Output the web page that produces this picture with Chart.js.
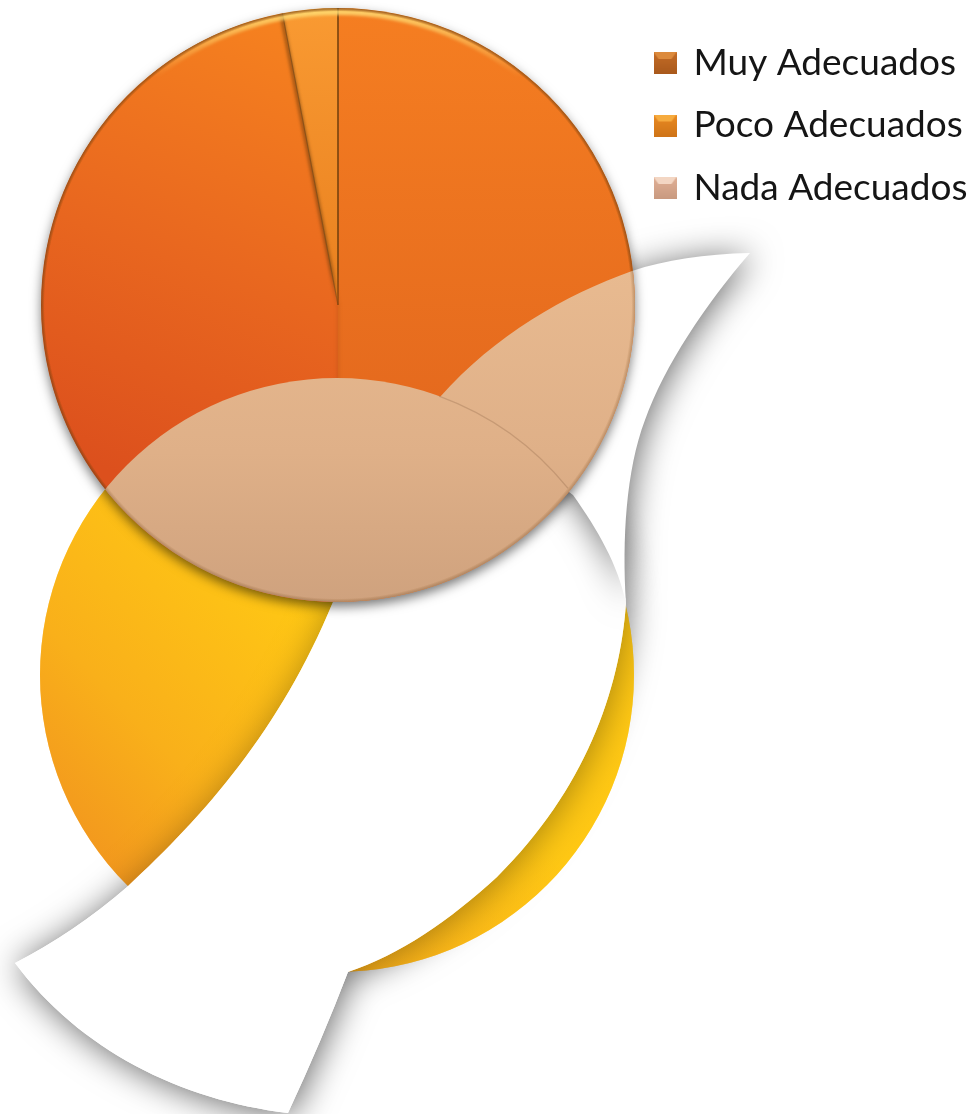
<!DOCTYPE html>
<html><head><meta charset="utf-8">
<style>
html,body{margin:0;padding:0;background:#fff;width:977px;height:1114px;overflow:hidden}
canvas{position:absolute;left:0;top:0}
</style>
<script src="https://cdn.jsdelivr.net/npm/chart.js@4/dist/chart.umd.min.js"></script>
</head><body>
<canvas id="lower" width="977" height="1114"></canvas>
<canvas id="upper" width="977" height="1114"></canvas>
<script>
const categories = ['Muy Adecuados', 'Poco Adecuados', 'Nada Adecuados'];
const upperValues = [47, 3, 50];
const lowerValues = [100];
const legendColors = [['#dc8a3c','#c46c26','#a9591c'], ['#f6ab3e','#ea8a22','#cf7418'], ['#f3d6c3','#e0b096','#c99a80']];

function ribbonUpper(c){
  c.beginPath(); c.moveTo(750,253);
  c.bezierCurveTo(705,254,665,260,632,271);
  c.bezierCurveTo(565,295,495,335,440,397);
  c.lineTo(573,495);
  c.bezierCurveTo(598,530,618,565,626,603);
  c.bezierCurveTo(622,540,626,470,645,420);
  c.bezierCurveTo(665,365,705,305,750,253);
  c.closePath();
}
function ribbonLower(c){
  c.beginPath(); c.moveTo(626,603);
  c.bezierCurveTo(620,690,585,790,497,877);
  c.bezierCurveTo(450,920,400,955,348,972);
  c.quadraticCurveTo(322,1040,288,1113);
  c.bezierCurveTo(180,1100,80,1050,15,963);
  c.quadraticCurveTo(75,932,127,887);
  c.bezierCurveTo(205,815,280,730,333,602);
  c.lineTo(350,450); c.lineTo(590,480); c.lineTo(615,540);
  c.closePath();
}
function rim(c, a, dark, inner){
  const g = c.createRadialGradient(a.x,a.y,a.outerRadius*inner,a.x,a.y,a.outerRadius);
  g.addColorStop(0,'rgba(120,60,0,0)'); g.addColorStop(1,dark);
  c.fillStyle = g; c.beginPath(); c.arc(a.x,a.y,a.outerRadius,0,Math.PI*2); c.fill();
}
function yellowFill(c){
  const g = c.createLinearGradient(80,860,330,620);
  g.addColorStop(0,'#f2961e'); g.addColorStop(.4,'#f9b01a'); g.addColorStop(1,'#ffc814');
  return g;
}

const lowerChart = new Chart(document.getElementById('lower'), {
  type:'pie',
  data:{labels:['Total'],datasets:[{data:lowerValues,borderWidth:0,
    backgroundColor(ctx){ return yellowFill(ctx.chart.ctx); }}]},
  options:{responsive:false,animation:false,
    layout:{padding:{left:40,top:378,right:343,bottom:142}},
    plugins:{legend:{display:false},tooltip:{enabled:false}}},
  plugins:[{id:'ribbons',afterDatasetsDraw(chart){
    const c = chart.ctx, a = chart.getDatasetMeta(0).data[0];
    c.save();
    c.shadowColor='rgba(0,0,0,.6)'; c.shadowBlur=34; c.shadowOffsetY=3; c.shadowOffsetX=2;
    c.fillStyle='#fff';
    ribbonLower(c); c.fill();
    c.restore();
    // the cast shadow is lighter where it falls on the yellow disc
    c.save();
    c.beginPath(); c.arc(a.x,a.y,a.outerRadius,0,Math.PI*2); c.clip();
    c.globalAlpha=.45; c.fillStyle=yellowFill(c); c.fillRect(0,0,977,1114);
    c.restore();
    c.fillStyle='#fff'; ribbonLower(c); c.fill();
    c.save();
    c.shadowColor='rgba(0,0,0,.6)'; c.shadowBlur=34; c.shadowOffsetY=3; c.shadowOffsetX=2;
    c.fillStyle='#fff'; ribbonUpper(c); c.fill();
    c.restore();
  }}]
});

const upperChart = new Chart(document.getElementById('upper'), {
  type:'pie',
  data:{labels:categories,datasets:[{data:upperValues,borderWidth:0,
    backgroundColor(ctx){
      const c = ctx.chart.ctx; let g;
      if(ctx.dataIndex===0){ g=c.createLinearGradient(290,20,110,470);
        g.addColorStop(0,'#f6821f'); g.addColorStop(.55,'#e8661f'); g.addColorStop(1,'#dc501d'); }
      else if(ctx.dataIndex===1){ g=c.createLinearGradient(0,10,0,300);
        g.addColorStop(0,'#f99a32'); g.addColorStop(1,'#e9801f'); }
      else { g=c.createLinearGradient(0,10,0,400);
        g.addColorStop(0,'#f57e21'); g.addColorStop(1,'#e56a1e'); }
      return g;
    }}]},
  options:{responsive:false,animation:false,rotation:180,
    layout:{padding:{left:41,top:8,right:342,bottom:512}},
    plugins:{tooltip:{enabled:false},
      legend:{display:true,position:'chartArea',align:'start',
        labels:{font:{family:'Lato',size:37},color:'#151515',padding:25.5,boxWidth:20,boxHeight:22,usePointStyle:true,
          generateLabels(){
            return categories.map((t,i)=>{
              const k=document.createElement('canvas'); k.width=23;k.height=22;
              const x=k.getContext('2d'), s=legendColors[i];
              const g=x.createLinearGradient(0,0,0,22);
              g.addColorStop(0,s[1]); g.addColorStop(1,s[2]);
              x.fillStyle=g; x.fillRect(0,0,23,22);
              x.fillStyle=s[0]; x.beginPath(); x.moveTo(0,0); x.lineTo(23,0); x.lineTo(18,7); x.lineTo(5,7); x.closePath(); x.fill();
              return {text:t,pointStyle:k,fillStyle:s[1],strokeStyle:s[1],lineWidth:0,hidden:false,index:i,fontColor:'#151515'};
            });
          }}}}},
  plugins:[{id:'shadow',beforeDraw(chart){
    const L=chart.legend; L.left=629.5; L.top=19; L.right=977; L.bottom=300; L.width=347.5; L.height=281;
  }, beforeDatasetsDraw(chart){
    const c=chart.ctx, a=chart.getDatasetMeta(0).data[0];
    c.save(); c.shadowColor='rgba(0,0,0,.55)'; c.shadowBlur=12; c.shadowOffsetY=5;
    c.fillStyle='#d8a97f'; c.beginPath(); c.arc(a.x,a.y,a.outerRadius-.5,0,Math.PI*2); c.fill(); c.restore();
  }, afterDatasetsDraw(chart){
    const c=chart.ctx, m=chart.getDatasetMeta(0).data, a=m[0], low=lowerChart.getDatasetMeta(0).data[0], R=a.outerRadius;
    const end=t=>[a.x+Math.cos(t)*R,a.y+Math.sin(t)*R];
    c.save();
    c.beginPath(); c.arc(a.x,a.y,R,0,Math.PI*2); c.clip();
    const seam=(t,w,col0,col1,blur)=>{
      const p=end(t), g=c.createLinearGradient(a.x,a.y,p[0],p[1]);
      g.addColorStop(0,col0); g.addColorStop(.12,col1); g.addColorStop(1,col1);
      c.save(); if(blur) c.filter='blur('+blur+'px)';
      c.strokeStyle=g; c.lineWidth=w; c.beginPath(); c.moveTo(a.x,a.y); c.lineTo(p[0],p[1]); c.stroke(); c.restore();
    };
    seam(m[1].startAngle-.004,4,'rgba(120,60,10,.1)','rgba(110,60,10,.55)',1.5);
    seam(m[1].startAngle,1.2,'rgba(120,60,10,.5)','rgba(130,75,20,.8)');
    seam(m[1].endAngle,2,'rgba(120,60,10,.5)','rgba(125,70,15,.85)',.5);
    seam(m[0].startAngle,3,'rgba(130,60,10,.18)','rgba(130,60,10,.18)',1.5);
    c.save(); c.filter='blur(1.5px)';
    const h=c.createLinearGradient(0,a.y-R,0,a.y-R+70);
    h.addColorStop(0,'rgba(255,225,120,.85)'); h.addColorStop(1,'rgba(255,225,120,0)');
    c.strokeStyle=h; c.lineWidth=6; c.beginPath(); c.arc(a.x,a.y,R-4,0,Math.PI*2); c.stroke(); c.restore();
    rim(c,a,'rgba(110,55,0,.5)',.988);
    const b=c.createLinearGradient(0,270,0,602);
    b.addColorStop(0,'#e8ba90'); b.addColorStop(.55,'#dfb088'); b.addColorStop(1,'#cfa27e');
    c.fillStyle=b;
    c.beginPath(); c.arc(low.x,low.y,low.outerRadius,0,Math.PI*2); c.fill();
    ribbonUpper(c); c.fill();
    c.strokeStyle='rgba(140,100,70,.3)'; c.lineWidth=1.2;
    c.beginPath(); c.arc(low.x,low.y,low.outerRadius,-1.22,-0.68); c.stroke();
    rim(c,a,'rgba(110,80,50,.35)',.988);
    c.restore();
  }}]
});
</script>
</body></html>
